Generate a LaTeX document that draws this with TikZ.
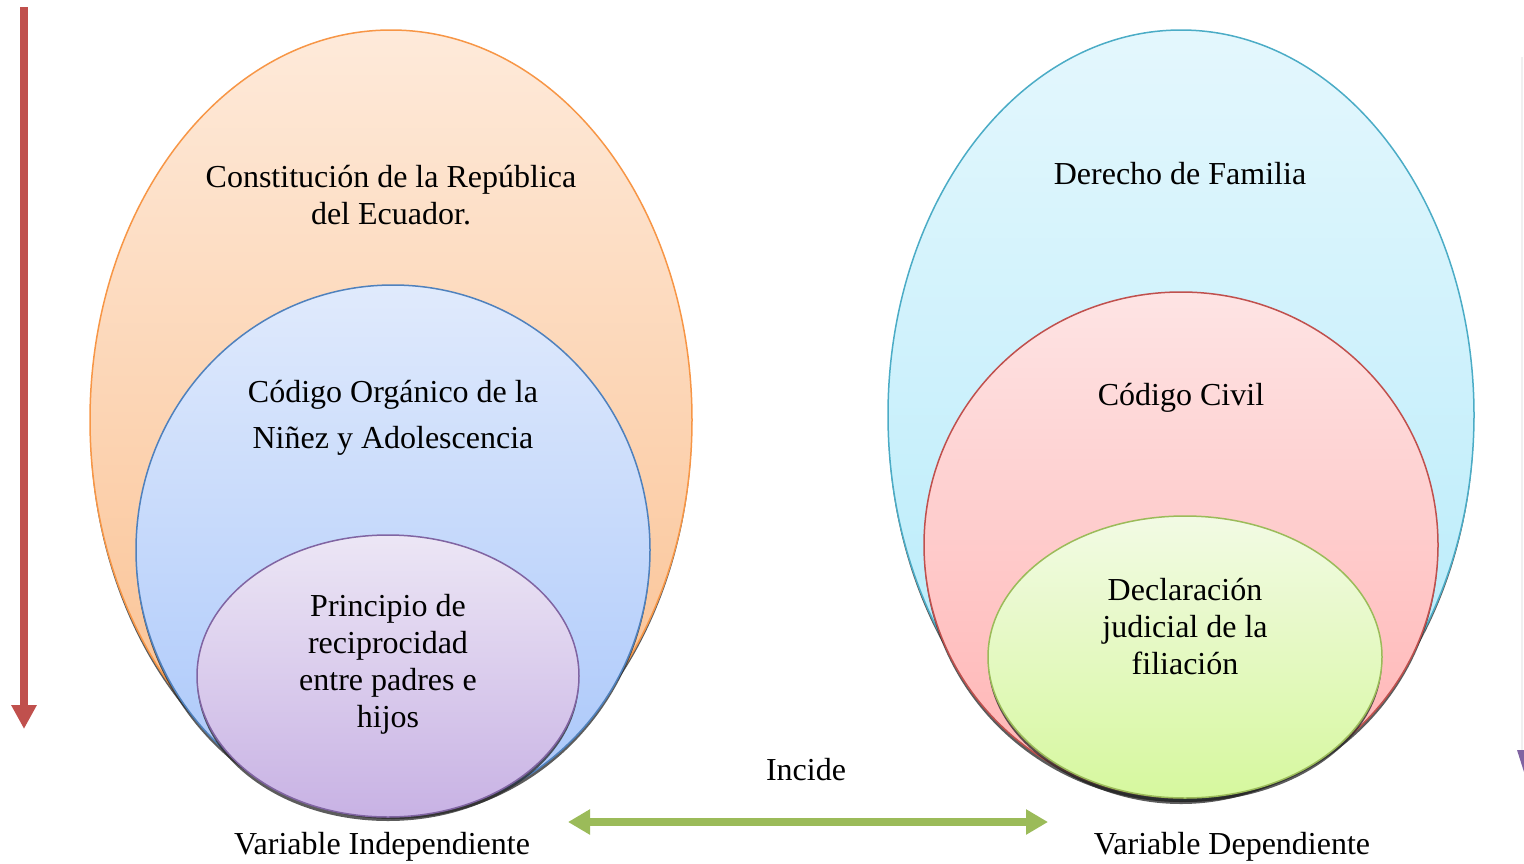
\documentclass[tikz,border=0pt]{standalone}
\usepackage{fontspec}
\setmainfont{Liberation Serif}
\usetikzlibrary{shapes.geometric,arrows.meta,shadows}
\definecolor{orgS}{RGB}{247,150,70}
\definecolor{bluS}{RGB}{79,129,189}
\definecolor{purS}{RGB}{128,100,162}
\definecolor{cyaS}{RGB}{75,172,198}
\definecolor{redS}{RGB}{192,80,77}
\definecolor{grnS}{RGB}{155,187,89}
\tikzset{
  oval/.style={ellipse, inner sep=0pt, outer sep=0pt, line width=1.5pt,
     drop shadow={opacity=0.75, shadow xshift=0pt, shadow yshift=-4pt, fill=black!85}},
  lbl/.style={font=\fontsize{32}{37}\selectfont, align=center, inner sep=0pt},
}
\begin{document}
\begin{tikzpicture}[x=1pt,y=-1pt]
\useasboundingbox (0,0) rectangle (1524,863);
% faint right edge fragment
\draw[black!6, line width=2pt] (1522,57) -- (1522,750);
\fill[purS] (1517,750) -- (1530,750) -- (1524,772) -- cycle;

% left set
\node[oval, draw=orgS, top color={rgb,255:red,254;green,234;blue,218}, bottom color={rgb,255:red,250;green,190;blue,140},
  minimum width=602pt, minimum height=780pt] (o1) at (391,420) {};
\node[oval, draw=bluS, top color={rgb,255:red,224;green,234;blue,252}, bottom color={rgb,255:red,168;green,198;blue,250},
  minimum width=514pt, minimum height=530pt] (o2) at (393,550) {};
\node[oval, draw=purS, top color={rgb,255:red,236;green,230;blue,245}, bottom color={rgb,255:red,200;green,178;blue,228},
  minimum width=382pt, minimum height=282pt] (o3) at (388,676) {};

% right set
\node[oval, draw=cyaS, top color={rgb,255:red,228;green,247;blue,253}, bottom color={rgb,255:red,178;green,234;blue,250},
  minimum width=586pt, minimum height=770pt] (r1) at (1181,415) {};
\node[oval, draw=redS, top color={rgb,255:red,254;green,228;blue,228}, bottom color={rgb,255:red,255;green,178;blue,178},
  minimum width=514pt, minimum height=506pt] (r2) at (1181,545) {};
\node[oval, draw=grnS, top color={rgb,255:red,242;green,250;blue,228}, bottom color={rgb,255:red,214;green,248;blue,158},
  minimum width=394pt, minimum height=282pt] (r3) at (1185,657) {};

% labels
\node[lbl] (t1) at (391,195) {Constitución de la República\\del Ecuador.};
\node[lbl, font=\fontsize{32}{46}\selectfont] (t2) at (393,418) {Código Orgánico de la\\Niñez y Adolescencia};
\node[lbl] (t3) at (388,664) {Principio de\\reciprocidad\\entre padres e\\hijos};
\node[lbl] (t4) at (1180,174) {Derecho de Familia};
\node[lbl] (t5) at (1181,398) {Código Civil};
\node[lbl] (t6) at (1185,627) {Declaración\\judicial de la\\filiación};
\node[lbl] (inc) at (806,770) {Incide};
\node[lbl] (vi) at (382,847) {Variable Independiente};
\node[lbl] (vd) at (1232,847) {Variable Dependiente};

% arrows
\coordinate (rs) at (24,7);
\coordinate (re) at (24,729);
\draw[redS, line width=8pt, -{Triangle[width=24pt,length=24pt]}] (rs) -- (re);
\coordinate (gl) at (568,822);
\coordinate (gr) at (1048,822);
\draw[grnS, line width=8pt, {Triangle[width=24pt,length=22pt]}-{Triangle[width=24pt,length=22pt]}] (gl) -- (gr);
\end{tikzpicture}
\end{document}
